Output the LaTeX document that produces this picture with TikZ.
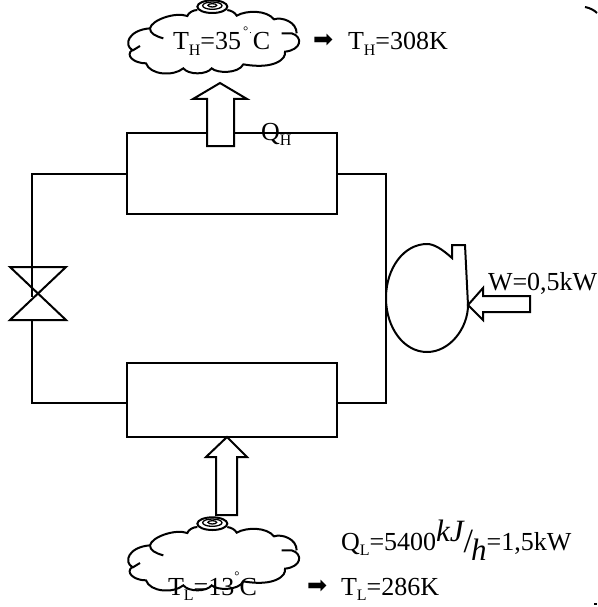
\documentclass[tikz,border=0pt]{standalone}
\usepackage{fontspec}
\setmainfont{Liberation Serif}
\newfontfamily\symfont{DejaVu Sans}
\newcommand{\sbs}[1]{\raisebox{-0.2em}{\fontsize{16}{16}\selectfont #1}}
\newcommand{\dg}{\raisebox{0.55em}{\fontsize{13}{13}\selectfont\textdegree}}
\tikzset{
  cloudpic/.pic={
    \draw[scale=1/3] (190,115) .. controls (165,108) and (150,100) .. (150,85)
      .. controls (155,60) and (225,35) .. (262,48)
      .. controls (265,38) and (280,30) .. (292,30)
      (382,30) .. controls (395,32) and (405,38) .. (410,47)
      .. controls (440,30) and (500,30) .. (522,58)
      .. controls (545,50) and (590,65) .. (590,100)
      (545,100) -- (575,100)
      .. controls (610,110) and (605,150) .. (555,155)
      .. controls (560,175) and (525,210) .. (430,193)
      .. controls (415,222) and (350,220) .. (335,205)
      .. controls (320,225) and (265,225) .. (250,205)
      .. controls (220,230) and (150,225) .. (138,190)
      .. controls (100,190) and (75,165) .. (97,150)
      .. controls (70,135) and (85,90) .. (150,85)
      (97,152) -- (120,138);
    \draw[scale=1/3] (337,20) circle [x radius=45, y radius=19];
    \draw[scale=1/3,line width=1.3pt] (337,17) circle [x radius=29, y radius=11]
      (337,16) circle [x radius=13, y radius=5];
  }
}
\begin{document}
\begin{tikzpicture}[x=1pt,y=-1pt,line width=2pt,every node/.style={font=\fontsize{26}{30}\selectfont,inner sep=0pt}]
  \tikzstyle{box}=[draw,minimum width=210pt,minimum height=81pt]
  \tikzstyle{blockarrow}=[draw,fill=white,miter limit=10]
  \tikzstyle{txt}=[anchor=base west]
  \useasboundingbox (0,0) rectangle (597,607);
  \node[box] (cond) at (232,173.5) {};
  \node[box,minimum height=74pt] (evap) at (232,400) {};
  \coordinate (valvetop) at (32,267);
  \coordinate (valvebot) at (32,320);
  \coordinate (valvemid) at (32,297);
  \coordinate (pipeR) at (386,298);
  \coordinate (condL) at (127,174);
  \coordinate (condR) at (337,174);
  \coordinate (evapL) at (127,403);
  \coordinate (evapR) at (337,403);
  % pipes
  \draw (condL) -| (valvetop);
  \draw (valvebot) |- (evapL);
  \draw (condR) -| (pipeR) |- (evapR);
  \draw (valvetop) -- (valvemid);
  % valve
  \draw (10,267) -- (66,267) -- (10,320) -- (66,320) -- cycle;
  % compressor
  \draw[line join=miter] (452,258) .. controls (442,249) and (434,244) .. (427,244)
    .. controls (404,244) and (386,268) .. (386,298)
    .. controls (386,328) and (404,352) .. (427,352)
    .. controls (450,352) and (468,328) .. (468,305)
    -- (465,245) -- (452,245) -- cycle;
  % heat and work arrows
  \draw[blockarrow] (207,146) -- (207,99) -- (193,99) -- (220,83) -- (247,99) -- (234,99) -- (234,146) -- cycle;
  \draw[blockarrow] (216,515) -- (216,457) -- (206,457) -- (227,437) -- (247,457) -- (237,457) -- (237,515) -- cycle;
  \draw[blockarrow] (530,296) -- (483,296) -- (483,288) -- (468,305) -- (483,320) -- (483,312) -- (530,312) -- cycle;
  % clouds
  \pic (hot) at (100,0) {cloudpic};
  \pic (cold) at (100,517) {cloudpic};
  % texts
  \node[txt] (thc) at (172,50) {T\sbs{H}=35\hspace{2pt}\dg\hspace{1pt}\raisebox{0.62em}{\fontsize{10}{10}\selectfont.}\hspace{1pt}C};
  \node[txt] (tharrow) at (312,48) {\symfont\fontsize{24}{24}\selectfont ➡};
  \node[txt] (thk) at (347,50) {T\sbs{H}=308K};
  \node[txt] (qh) at (260,140) {Q\sbs{H}};
  \node[txt] (work) at (487,290) {W=0,5kW};
  \node[txt] (ql) at (340,550) {Q\sbs{L}=5400\raisebox{9pt}{\fontsize{31}{31}\selectfont\itshape kJ}\raisebox{-2pt}{\fontsize{34}{34}\selectfont /}\hspace{-2pt}\raisebox{-10pt}{\fontsize{31}{31}\selectfont\itshape h}=1,5kW};
  \node[txt] (tlc) at (167,595) {T\sbs{L}=13\dg C};
  \node[txt] (tlarrow) at (306,593) {\symfont\fontsize{24}{24}\selectfont ➡};
  \node[txt] (tlk) at (340,595) {T\sbs{L}=286K};
  % stray marks
  \draw (585,7) .. controls (590,8) and (594,10) .. (597,13);
  \draw (594,604) -- (597,604);
\end{tikzpicture}
\end{document}
